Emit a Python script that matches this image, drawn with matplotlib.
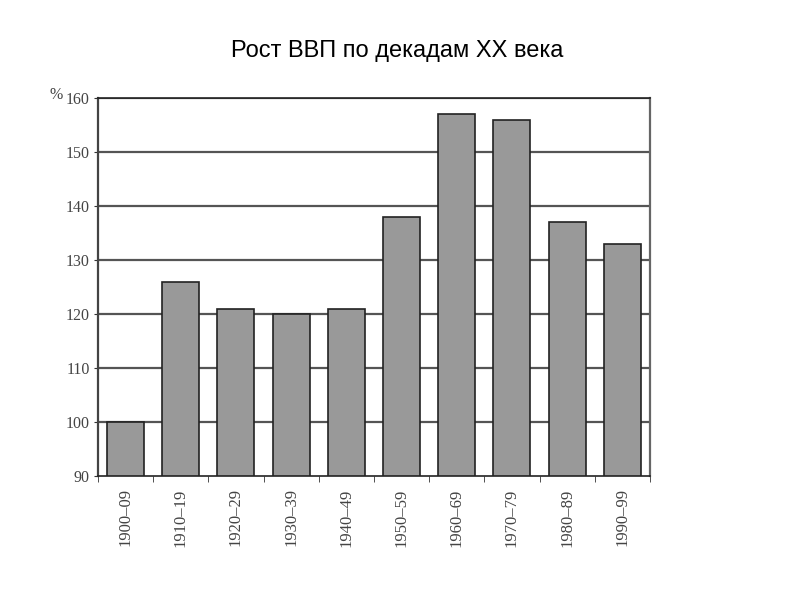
import matplotlib
matplotlib.use("Agg")
import matplotlib.pyplot as plt
import numpy as np

categories = ["1900–09", "1910–19", "1920–29", "1930–39", "1940–49",
              "1950–59", "1960–69", "1970–79", "1980–89", "1990–99"]
values = [100, 126, 121, 120, 121, 138, 157, 156, 137, 133]
yticks = [90, 100, 110, 120, 130, 140, 150, 160]

fig = plt.figure(figsize=(7.94, 5.95), dpi=100)
ax = fig.add_axes([0.1234, 0.2, 0.6952, 0.6353])

x = np.arange(len(categories))
ax.bar(x, [v - 90 for v in values], bottom=90, width=0.67, color="#999999",
       edgecolor="#222222", linewidth=1.2, zorder=3)

ax.set_xlim(-0.5, len(categories) - 0.5)
ax.set_ylim(90, 160)
ax.set_yticks(yticks)
ax.set_yticklabels([str(t) for t in yticks], family="Liberation Serif",
                   fontsize=11.5, color="#444444")
for t in yticks[1:]:
    ax.axhline(t, color="#555555", linewidth=1.6, zorder=1)

ax.set_xticks(x)
ax.set_xticklabels(categories, rotation=90, family="Liberation Serif",
                   fontsize=12, color="#444444")
ax.tick_params(axis="x", which="major", length=0, pad=9)
ax.set_xticks(np.arange(-0.5, len(categories), 1.0), minor=True)
ax.tick_params(axis="x", which="minor", length=4, color="#333333", direction="out")
ax.tick_params(axis="y", length=3, color="#333333", direction="out", pad=3)

ax.spines["left"].set_color("#444444")
ax.spines["left"].set_linewidth(1.6)
ax.spines["right"].set_color("#666666")
ax.spines["right"].set_linewidth(1.6)
ax.spines["top"].set_color("#222222")
ax.spines["top"].set_linewidth(1.2)
ax.spines["bottom"].set_color("#222222")
ax.spines["bottom"].set_linewidth(1.2)

fig.text(0.062, 0.827, "%", family="Liberation Serif", fontsize=11.5,
         color="#444444", ha="left", va="bottom")
fig.text(0.5, 0.915, "Рост ВВП по декадам XX века", family="Liberation Sans",
         fontsize=17, ha="center", va="center", color="black")

fig.savefig("out.png", dpi=100)
